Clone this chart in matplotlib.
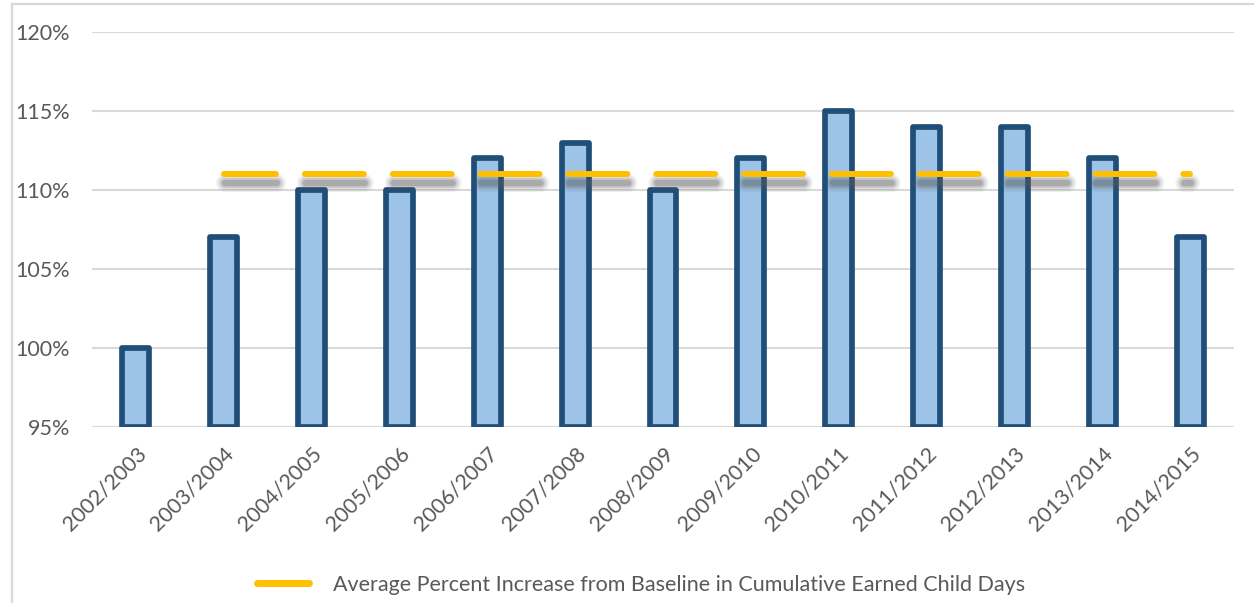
import numpy as np
import matplotlib
matplotlib.use("Agg")
import matplotlib.pyplot as plt
import matplotlib.patheffects as pe
from matplotlib.patches import Rectangle

# school years and the percent of baseline child days for each
years = ["2002/2003", "2003/2004", "2004/2005", "2005/2006", "2006/2007",
         "2007/2008", "2008/2009", "2009/2010", "2010/2011", "2011/2012",
         "2012/2013", "2013/2014", "2014/2015"]
pct_of_baseline = [100, 107, 110, 110, 112, 113, 110, 112, 115, 114, 114, 112, 107]

# average increase line, drawn from the second year onward
avg_years = years[1:]
avg_pct = [111] * len(avg_years)
avg_label = "Average Percent Increase from Baseline in Cumulative Earned Child Days"

plt.rcParams["font.family"] = ["Lato", "DejaVu Sans"]
plt.rcParams["lines.scale_dashes"] = False

text_col = "#595959"
grid_col = "#D9D9D9"
fs = 15.5

fig = plt.figure(figsize=(12.54, 6.03), dpi=100)
ax = fig.add_axes([92 / 1254, 1 - 427 / 603, 1142 / 1254, 395 / 603])

# outer chart frame (left and top edges show)
fig.patches.append(Rectangle((12 / 1254, -0.1), 1.2, 1.1 - 4 / 603,
                             transform=fig.transFigure, fill=False,
                             edgecolor=grid_col, linewidth=1.6))

x = np.arange(len(years))
ax.bar(x, np.array(pct_of_baseline) - 95, bottom=95, width=0.307,
       color="#9DC3E6", edgecolor="#1F4E79", linewidth=4.1,
       joinstyle="round", zorder=2)

xa = np.arange(1, 1 + len(avg_years))
shadow = [pe.SimpleLineShadow(offset=(1, -6.5), shadow_color="0.35",
                              alpha=a, linewidth=w)
          for w, a in [(13, 0.08), (10, 0.12), (7, 0.18), (4.5, 0.25)]]
ax.plot(xa, avg_pct, color="#FFC000", linewidth=4.3,
        linestyle=(5.0, (42.4, 20.85)), dash_capstyle="round",
        solid_capstyle="round", zorder=3, label=avg_label,
        path_effects=shadow + [pe.Normal()])

ax.set_xlim(-0.5, len(years) - 0.5)
ax.set_ylim(95, 120)
ax.set_yticks(np.arange(95, 121, 5))
ax.set_yticklabels([f"{v}%" for v in range(95, 121, 5)])
ax.set_xticks(x)
ax.set_xticklabels(years, rotation=45, ha="right", rotation_mode="anchor")

ax.grid(axis="y", color=grid_col, linewidth=1.5, zorder=0)
ax.set_axisbelow(True)
for s in ax.spines.values():
    s.set_visible(False)
ax.tick_params(axis="both", length=0, labelcolor=text_col, labelsize=fs)
ax.tick_params(axis="y", pad=16)
ax.tick_params(axis="x", pad=12)

leg = fig.legend(loc="center", bbox_to_anchor=(641 / 1254, 1 - 585 / 603),
                 frameon=False, fontsize=fs, handlelength=2.45,
                 handletextpad=1.1)
for t in leg.get_texts():
    t.set_color(text_col)
for h in leg.get_lines():
    h.set_linestyle("-")
    h.set_linewidth(5)
    h.set_path_effects([])

fig.savefig("out.png", dpi=100)
